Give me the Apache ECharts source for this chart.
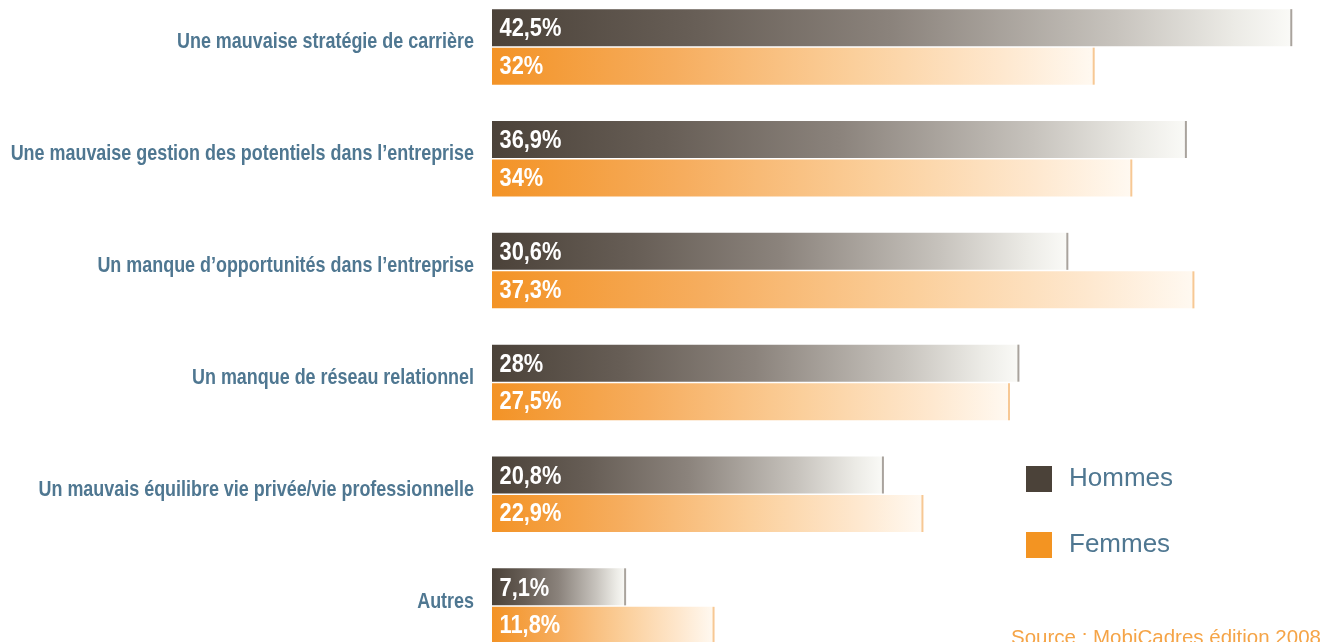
<!DOCTYPE html>
<html lang="fr">
<head>
<meta charset="utf-8">
<title>Causes perçues du blocage de carrière</title>
<script src="https://cdn.jsdelivr.net/npm/echarts@6/dist/echarts.min.js"></script>
<style>
  html, body { margin: 0; padding: 0; background: #ffffff; }
  #chart { width: 1323px; height: 642px; }
</style>
</head>
<body>
<div id="chart"></div>
<script>
// Motifs cités, du haut vers le bas
const categories = [
  'Une mauvaise stratégie de carrière',
  'Une mauvaise gestion des potentiels dans l\u2019entreprise',
  'Un manque d\u2019opportunités dans l\u2019entreprise',
  'Un manque de réseau relationnel',
  'Un mauvais équilibre vie privée/vie professionnelle',
  'Autres'
];
// Pourcentages par sexe
const hommes = [42.5, 36.9, 30.6, 28, 20.8, 7.1];
const femmes = [32, 34, 37.3, 27.5, 22.9, 11.8];
const seriesNames = ['Hommes', 'Femmes'];
const sourceText = 'Source : MobiCadres édition 2008';

const BAR_W = 37;
const GAP = 1.5;
const SANS = '"Liberation Sans", Arial, Helvetica, sans-serif';
const LABEL_BLUE = '#4f7791';

const fmt = v => String(v).replace('.', ',') + '%';

function fade(stops) {
  return {
    type: 'linear', x: 0, y: 0, x2: 1, y2: 0,
    colorStops: stops.map(([offset, color]) => ({ offset, color }))
  };
}
const gradHommes = fade([[0, '#4b4239'], [0.25, '#675e56'], [0.5, '#8b837c'], [0.78, '#c7c3bd'], [0.93, '#ecebe6'], [1, '#fafaf7']]);
const gradFemmes = fade([[0, '#f39326'], [0.3, '#f6ad5e'], [0.6, '#fbcf9b'], [0.85, '#fee8cf'], [1, '#fff9f1']]);

// Value text (condensed bold) at the start of each bar, plus a thin stroke at its tip
function barDecor(capColor, side) {
  return function (params, api) {
    const cat = api.value(1);
    const tip = api.coord([api.value(0), cat]);
    const zero = api.coord([0, cat]);
    const top = side < 0 ? tip[1] - GAP / 2 - BAR_W : tip[1] + GAP / 2;
    const mid = top + BAR_W / 2 + (side < 0 ? 1.5 : 0.5);
    return {
      type: 'group',
      children: [
        {
          type: 'rect',
          shape: { x: tip[0] - 1.5, y: top, width: 2, height: BAR_W },
          style: { fill: capColor }
        },
        {
          type: 'text',
          x: zero[0] + 7.5,
          y: mid,
          scaleX: 0.84,
          style: {
            text: fmt(api.value(0)),
            fill: '#ffffff',
            fontFamily: SANS,
            fontWeight: 'bold',
            fontSize: 26,
            align: 'left',
            verticalAlign: 'middle'
          }
        }
      ]
    };
  };
}

// Category names, right-aligned against the bars, in a narrowed bold face
function categoryLabel(params, api) {
  const p = api.coord([0, api.value(1)]);
  return {
    type: 'text',
    x: p[0] - 18,
    y: p[1] - 4.5,
    scaleX: 0.815,
    style: {
      text: categories[params.dataIndex],
      fill: LABEL_BLUE,
      fontFamily: SANS,
      fontWeight: 'bold',
      fontSize: 22,
      align: 'right',
      verticalAlign: 'middle'
    }
  };
}

const chart = echarts.init(document.getElementById('chart'), null, { renderer: 'canvas' });
chart.setOption({
  animation: false,
  backgroundColor: '#ffffff',
  title: {
    text: sourceText,
    left: 1006,
    top: 623,
    textStyle: { color: '#f5a447', fontSize: 20.5, fontWeight: 'normal', fontFamily: SANS }
  },
  legend: {
    orient: 'vertical',
    left: 1021,
    top: 461,
    itemWidth: 26,
    itemHeight: 26,
    itemGap: 40,
    icon: 'rect',
    selectedMode: false,
    textStyle: { color: LABEL_BLUE, fontSize: 26, fontFamily: SANS, padding: [0, 0, 5, 12] },
    data: [
      { name: seriesNames[0], itemStyle: { color: '#4b4239' } },
      { name: seriesNames[1], itemStyle: { color: '#f39422' } }
    ]
  },
  grid: { left: 492, right: 3, top: -9, bottom: -20, containLabel: false, outerBoundsMode: 'none' },
  xAxis: {
    type: 'value',
    min: 0,
    max: 44,
    show: false
  },
  yAxis: {
    type: 'category',
    data: categories,
    inverse: true,
    axisLine: { show: false },
    axisTick: { show: false },
    splitLine: { show: false },
    axisLabel: { show: false }
  },
  series: [
    {
      name: seriesNames[0],
      type: 'bar',
      data: hommes,
      barWidth: BAR_W,
      barGap: (GAP / BAR_W * 100).toFixed(1) + '%',
      itemStyle: { color: gradHommes },
      z: 2
    },
    {
      name: seriesNames[1],
      type: 'bar',
      data: femmes,
      barWidth: BAR_W,
      itemStyle: { color: gradFemmes },
      z: 2
    },
    {
      name: 'decorHommes',
      type: 'custom',
      renderItem: barDecor('#a9a39d', -1),
      data: hommes.map((v, i) => [v, i]),
      encode: { x: 0, y: 1 },
      z: 3,
      silent: true
    },
    {
      name: 'decorFemmes',
      type: 'custom',
      renderItem: barDecor('#f7c894', 1),
      data: femmes.map((v, i) => [v, i]),
      encode: { x: 0, y: 1 },
      z: 3,
      silent: true
    },
    {
      name: 'categoryNames',
      type: 'custom',
      renderItem: categoryLabel,
      data: categories.map((c, i) => [0, i]),
      encode: { x: 0, y: 1 },
      z: 3,
      silent: true
    }
  ]
});
</script>
</body>
</html>
